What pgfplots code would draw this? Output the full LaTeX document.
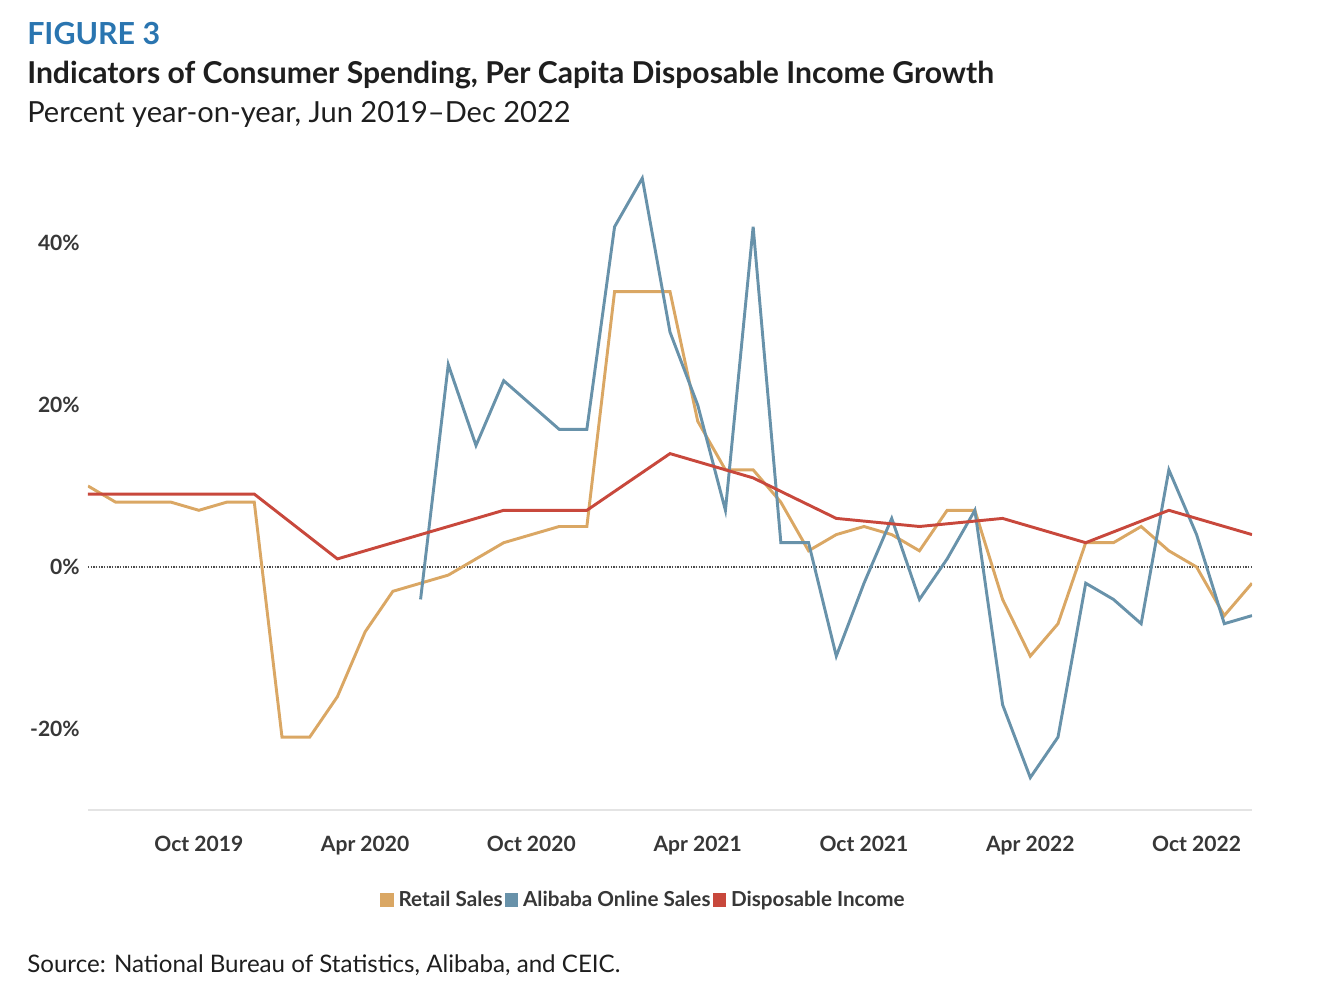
\documentclass[border=0pt]{standalone}
\usepackage{fontspec}
\setmainfont{Lato}
\usepackage{pgfplots}
\pgfplotsset{compat=1.18}
\definecolor{tanc}{RGB}{218,167,100}
\definecolor{bluec}{RGB}{104,146,170}
\definecolor{redc}{RGB}{200,72,60}
\definecolor{figblue}{RGB}{42,117,176}
\definecolor{titletext}{RGB}{30,30,30}
\definecolor{ticktext}{RGB}{55,55,55}
\definecolor{axisgray}{RGB}{228,228,228}
\begin{document}
\begin{tikzpicture}
\begin{axis}[
  at={(0pt,0pt)}, anchor=south west,
  scale only axis, width=873pt, height=486pt,
  xmin=0, xmax=42, ymin=-30, ymax=50,
  axis lines*=left,
  x axis line style={draw=axisgray, line width=1.5pt},
  y axis line style={draw=none},
  major tick length=0pt, tick style={draw=none},
  xtick={4,10,16,22,28,34,40},
  xticklabels={Oct 2019,Apr 2020,Oct 2020,Apr 2021,Oct 2021,Apr 2022,Oct 2022},
  ytick={-20,0,20,40},
  yticklabels={-20\%,0\%,20\%,40\%},
  ticklabel style={font=\fontsize{15.8}{18}\selectfont\bfseries, text=ticktext},
  xticklabel style={anchor=north, inner sep=0pt, yshift=-19pt},
  yticklabel style={anchor=east, inner sep=0pt, xshift=-6pt},
  legend columns=3,
  legend style={draw=none, fill=none, at={(0.477,-0.139)}, anchor=center,
    font=\fontsize{15.5}{18}\selectfont\bfseries, text=ticktext,
    /tikz/every odd column/.append style={column sep=2.5pt},
    /tikz/every even column/.append style={column sep=0.5pt},
    nodes={inner sep=1.2pt}},
  legend image code/.code={\fill[#1,draw=none] (0pt,-5pt) rectangle (10pt,5pt);},
  every axis plot/.append style={line width=2.2pt, line join=miter, mark=none},
]
\addplot[draw=black!70, line width=0.9pt, dash pattern=on 0.9pt off 1.1pt, forget plot] coordinates {(0,0) (42,0)};
\addplot[color=tanc] coordinates {
(0,10)(1,8)(2,8)(3,8)(4,7)(5,8)(6,8)(7,-21)(8,-21)(9,-16)(10,-8)(11,-3)(12,-2)(13,-1)(14,1)(15,3)(16,4)(17,5)(18,5)(19,34)(20,34)(21,34)(22,18)(23,12)(24,12)(25,8)(26,2)(27,4)(28,5)(29,4)(30,2)(31,7)(32,7)(33,-4)(34,-11)(35,-7)(36,3)(37,3)(38,5)(39,2)(40,0)(41,-6)(42,-2)};
\addlegendentry{Retail Sales}
\addplot[color=bluec] coordinates {
(12,-4)(13,25)(14,15)(15,23)(16,20)(17,17)(18,17)(19,42)(20,48)(21,29)(22,20)(23,7)(24,42)(25,3)(26,3)(27,-11)(28,-2)(29,6)(30,-4)(31,1)(32,7)(33,-17)(34,-26)(35,-21)(36,-2)(37,-4)(38,-7)(39,12)(40,4)(41,-7)(42,-6)};
\addlegendentry{Alibaba Online Sales}
\addplot[color=redc] coordinates {
(0,9)(3,9)(6,9)(9,1)(12,4)(15,7)(18,7)(21,14)(24,11)(27,6)(30,5)(33,6)(36,3)(39,7)(42,4)};
\addlegendentry{Disposable Income}
\end{axis}
\begin{scope}[x=0.75pt,y=0.75pt]
\node[anchor=base west,inner sep=0,text=figblue,font=\fontsize{22.8}{26}\selectfont\bfseries] at (27-88,810-45) {FIGURE 3};
\node[anchor=base west,inner sep=0,text=titletext,font=\fontsize{22.6}{26}\selectfont\bfseries] at (27-88,810-84) {Indicators of Consumer Spending, Per Capita Disposable Income Growth};
\node[anchor=base west,inner sep=0,text=titletext,font=\fontsize{21.8}{26}\selectfont] at (27-88,810-123) {Percent year-on-year, Jun 2019--Dec 2022};
\node[anchor=base west,inner sep=0,text=titletext,font=\fontsize{18.1}{21}\selectfont] at (27-88,810-972) {Source: National Bureau of Statistics, Alibaba, and CEIC.};
\path[use as bounding box] (-88,-190) rectangle (1242,810);
\end{scope}
\end{tikzpicture}
\end{document}
